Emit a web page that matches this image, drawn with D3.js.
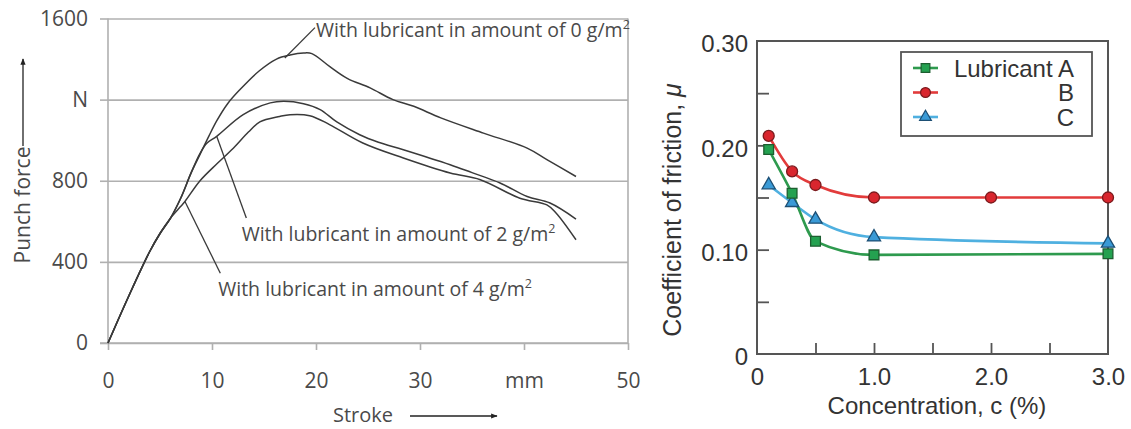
<!DOCTYPE html>
<html>
<head>
<meta charset="utf-8">
<script src="https://cdn.jsdelivr.net/npm/d3@7/dist/d3.min.js"></script>
<style>
  html, body { margin: 0; padding: 0; background: #fff; }
  svg { display: block; }
</style>
</head>
<body>
<svg id="chart" width="1131" height="429"></svg>
<script>
// ---------------- Left panel data: punch force vs stroke ----------------
const strokeTicks = [0, 10, 20, 30, 40, 50];
const strokeTickLabels = ["0", "10", "20", "30", "mm", "50"];
const forceTicks = [0, 400, 800, 1200, 1600];
const forceTickLabels = ["0", "400", "800", "N", "1600"];

const curve0Stroke = [0, 2, 4, 5, 6, 7, 8, 8.85, 9.7, 10.45, 11.5, 12.7, 14.5, 16.2, 17.5, 18.8, 19.6, 21.3, 23, 25.2, 27.4, 29.4, 32, 36.1, 40.3, 42.2, 45];
const curve0Force  = [0, 232, 450, 540, 615, 715, 840, 930, 1020, 1095, 1180, 1250, 1340, 1400, 1420, 1430, 1427, 1364, 1305, 1258, 1200, 1167, 1110, 1035, 961, 904, 821];

const curve2Stroke = [0, 2, 4, 5, 6, 7, 8, 8.85, 9.5, 10.45, 13, 15.6, 16.9, 18.8, 20.4, 22, 24.2, 26, 28.4, 32.9, 35, 37.7, 40.3, 42.5, 45];
const curve2Force  = [0, 232, 450, 540, 615, 715, 840, 935, 985, 1019, 1126, 1184, 1192, 1180, 1151, 1090, 1027, 990, 953, 879, 840, 789, 722, 690, 611];

const curve4Stroke = [0, 2, 4, 5, 6, 7, 7.4, 8.85, 10.5, 12.05, 13.5, 14.6, 16.5, 17.5, 19.4, 21.3, 24.5, 28.4, 32.9, 35.8, 39.6, 42.2, 43.1, 45];
const curve4Force  = [0, 232, 450, 540, 615, 674, 698, 800, 885, 960, 1040, 1090, 1117, 1126, 1121, 1077, 986, 912, 838, 805, 714, 681, 640, 509];

const annotTexts = ["With lubricant in amount of 0 g/m", "With lubricant in amount of 2 g/m", "With lubricant in amount of 4 g/m"];
// leader lines: from point on curve to label (data units)
const leaderFrom = [[17.0, 1405], [10.45, 1019], [7.4, 698]];
const leaderTo   = [[19.9, 1555], [13.3, 616], [10.8, 344]];
// label anchor (start of text baseline, data units)
const annotAnchor = [[20.0, 1511], [12.85, 505], [10.6, 232]];

// ---------------- Right panel data: friction coefficient vs concentration ----------------
const concTicks = [0, 1.0, 2.0, 3.0];
const concMinorTicks = [0.5, 1.0, 1.5, 2.0, 2.5];
const muTicks = [0, 0.10, 0.20, 0.30];
const muMinorTicks = [0.05, 0.10, 0.15, 0.20, 0.25];

const seriesNames = ["Lubricant A", "B", "C"];
const concA = [0.1, 0.3, 0.5, 1.0, 3.0];
const muA   = [0.196, 0.154, 0.108, 0.095, 0.096];
const concB = [0.1, 0.3, 0.5, 1.0, 2.0, 3.0];
const muB   = [0.209, 0.175, 0.162, 0.150, 0.150, 0.150];
const concC = [0.1, 0.3, 0.5, 1.0, 3.0];
const muC   = [0.162, 0.145, 0.129, 0.112, 0.106];

// ======================================================================
const svg = d3.select("#chart");

// ---------------- Left panel ----------------
const L = { left: 108, right: 628, top: 18.5, bottom: 343 };
const xL = d3.scaleLinear().domain([0, 50]).range([L.left, L.right]);
const yL = d3.scaleLinear().domain([0, 1600]).range([L.bottom, L.top]);
const leftFont = "'Open Sans', 'Noto Sans', sans-serif";
const gridCol = "#b0b0b0";
const textColL = "#4a4a4a";

const gL = svg.append("g");

// gridlines
gL.append("g")
  .attr("transform", `translate(${L.left},0)`)
  .call(d3.axisLeft(yL).tickValues(forceTicks).tickSize(-(L.right - L.left)).tickFormat(""))
  .call(g => g.select(".domain").remove())
  .call(g => g.selectAll("line").attr("stroke", gridCol).attr("stroke-width", 1.6));

// y axis with labels
gL.append("g")
  .attr("transform", `translate(${L.left},0)`)
  .call(d3.axisLeft(yL).tickValues(forceTicks).tickSize(8).tickPadding(12)
        .tickFormat((d, i) => forceTickLabels[i]))
  .call(g => g.select(".domain").attr("stroke", gridCol).attr("stroke-width", 1.6).attr("d", `M0,${L.top}V${L.bottom}`))
  .call(g => g.selectAll("line").attr("stroke", gridCol).attr("stroke-width", 1.6))
  .call(g => g.selectAll("text").attr("fill", textColL).attr("font-family", leftFont).attr("font-size", 21));

// right border
gL.append("line")
  .attr("x1", L.right).attr("x2", L.right).attr("y1", L.top).attr("y2", L.bottom)
  .attr("stroke", gridCol).attr("stroke-width", 1.6);

// x axis
gL.append("g")
  .attr("transform", `translate(0,${L.bottom})`)
  .call(d3.axisBottom(xL).tickValues(strokeTicks).tickSize(7).tickPadding(23)
        .tickFormat((d, i) => strokeTickLabels[i]))
  .call(g => g.select(".domain").attr("stroke", gridCol).attr("stroke-width", 1.6).attr("d", `M${L.left - 8},0H${L.right}`))
  .call(g => g.selectAll("line").attr("stroke", gridCol).attr("stroke-width", 1.6))
  .call(g => g.selectAll("text").attr("fill", textColL).attr("font-family", leftFont).attr("font-size", 21));

// curves
const lineL = d3.line().x(d => xL(d[0])).y(d => yL(d[1])).curve(d3.curveCatmullRom.alpha(0.5));
const curves = [
  d3.zip(curve0Stroke, curve0Force),
  d3.zip(curve2Stroke, curve2Force),
  d3.zip(curve4Stroke, curve4Force)
];
gL.selectAll("path.curve").data(curves).join("path")
  .attr("class", "curve")
  .attr("d", lineL)
  .attr("fill", "none")
  .attr("stroke", "#3a3a3a")
  .attr("stroke-width", 1.5);

// leader lines
gL.selectAll("line.leader").data(d3.range(3)).join("line")
  .attr("class", "leader")
  .attr("x1", i => xL(leaderFrom[i][0])).attr("y1", i => yL(leaderFrom[i][1]))
  .attr("x2", i => xL(leaderTo[i][0])).attr("y2", i => yL(leaderTo[i][1]))
  .attr("stroke", "#3a3a3a").attr("stroke-width", 1.3);

// annotation texts
const annot = gL.selectAll("text.annot").data(d3.range(3)).join("text")
  .attr("class", "annot")
  .attr("x", i => xL(annotAnchor[i][0]))
  .attr("y", i => yL(annotAnchor[i][1]))
  .attr("font-family", leftFont).attr("font-size", 19.5).attr("fill", textColL);
annot.append("tspan").text(i => annotTexts[i]);
annot.append("tspan").attr("dy", -8).attr("font-size", 12.5).text("2");

// axis titles
gL.append("text")
  .attr("transform", `translate(30,205) rotate(-90)`)
  .attr("text-anchor", "middle")
  .attr("font-family", leftFont).attr("font-size", 21).attr("fill", textColL)
  .text("Punch force");
gL.append("text")
  .attr("x", 333).attr("y", 422)
  .attr("font-family", leftFont).attr("font-size", 20).attr("fill", textColL)
  .text("Stroke");

const defs = svg.append("defs");
defs.append("marker").attr("id", "arr").attr("viewBox", "0 0 10 10")
  .attr("refX", 9).attr("refY", 5).attr("markerWidth", 5).attr("markerHeight", 5)
  .attr("orient", "auto")
  .append("path").attr("d", "M0,1L10,5L0,9Z").attr("fill", "#222");

gL.append("line").attr("x1", 23).attr("x2", 23).attr("y1", 146).attr("y2", 59)
  .attr("stroke", "#222").attr("stroke-width", 1.3).attr("marker-end", "url(#arr)");
gL.append("line").attr("x1", 410).attr("x2", 497).attr("y1", 416).attr("y2", 416)
  .attr("stroke", "#222").attr("stroke-width", 1.3).attr("marker-end", "url(#arr)");

// ---------------- Right panel ----------------
const R = { left: 757, right: 1108, top: 41, bottom: 354 };
const xR = d3.scaleLinear().domain([0, 3.0]).range([R.left, R.right]);
const yR = d3.scaleLinear().domain([0, 0.30]).range([R.bottom, R.top]);
const rightFont = "'Liberation Sans', Arial, sans-serif";
const frameCol = "#555";
const textColR = "#333";
const fsR = 24;
const gR = svg.append("g");

// minor inward ticks
gR.append("g")
  .attr("transform", `translate(${R.left},0)`)
  .call(d3.axisRight(yR).tickValues(muMinorTicks).tickSize(12).tickFormat(""))
  .call(g => g.select(".domain").remove())
  .call(g => g.selectAll("line").attr("stroke", frameCol).attr("stroke-width", 1.8));
gR.append("g")
  .attr("transform", `translate(0,${R.bottom})`)
  .call(d3.axisTop(xR).tickValues(concMinorTicks).tickSize(11).tickFormat(""))
  .call(g => g.select(".domain").remove())
  .call(g => g.selectAll("line").attr("stroke", frameCol).attr("stroke-width", 1.8));

// labels
gR.append("g")
  .attr("transform", `translate(${R.left},0)`)
  .call(d3.axisLeft(yR).tickValues(muTicks).tickSize(0).tickPadding(9)
        .tickFormat(d => d === 0 ? "0" : d3.format(".2f")(d)))
  .call(g => g.select(".domain").remove())
  .call(g => g.selectAll("text").attr("dy", "0.45em").attr("fill", textColR).attr("font-family", rightFont).attr("font-size", fsR));
gR.append("g")
  .attr("transform", `translate(0,${R.bottom})`)
  .call(d3.axisBottom(xR).tickValues(concTicks).tickSize(0).tickPadding(14)
        .tickFormat(d => d === 0 ? "0" : d3.format(".1f")(d)))
  .call(g => g.select(".domain").remove())
  .call(g => g.selectAll("text").attr("fill", textColR).attr("font-family", rightFont).attr("font-size", fsR));

// frame
gR.append("rect")
  .attr("x", R.left).attr("y", R.top).attr("width", R.right - R.left).attr("height", R.bottom - R.top)
  .attr("fill", "none").attr("stroke", frameCol).attr("stroke-width", 2);

// axis titles
gR.append("text")
  .attr("transform", `translate(681,210) rotate(-90)`)
  .attr("text-anchor", "middle")
  .attr("font-family", rightFont).attr("font-size", 25).attr("fill", textColR)
  .call(t => t.append("tspan").text("Coefficient of friction, "))
  .call(t => t.append("tspan").attr("font-style", "italic").text("μ"));
gR.append("text")
  .attr("x", 937).attr("y", 414)
  .attr("text-anchor", "middle")
  .attr("font-family", rightFont).attr("font-size", fsR).attr("fill", textColR)
  .text("Concentration, c (%)");

const series = [
  { name: seriesNames[0], pts: d3.zip(concA, muA), line: "#2e9a4e", fill: "#24a150", stroke: "#1d5e30", shape: d3.symbolSquare, size: 95 },
  { name: seriesNames[1], pts: d3.zip(concB, muB), line: "#e23b3b", fill: "#d9262e", stroke: "#7a1a1d", shape: d3.symbolCircle, size: 95 },
  { name: seriesNames[2], pts: d3.zip(concC, muC), line: "#4fb0e0", fill: "#3a9ad6", stroke: "#1d4f74", shape: d3.symbolTriangle, size: 75 }
];
const lineR = d3.line().x(d => xR(d[0])).y(d => yR(d[1])).curve(d3.curveMonotoneX);

[2, 0, 1].forEach(k => {
  const s = series[k];
  gR.append("path").attr("d", lineR(s.pts)).attr("fill", "none")
    .attr("stroke", s.line).attr("stroke-width", 2.6);
});
[2, 0, 1].forEach(k => {
  const s = series[k];
  gR.selectAll(null).data(s.pts).join("path")
    .attr("transform", d => `translate(${xR(d[0])},${yR(d[1])})`)
    .attr("d", d3.symbol().type(s.shape).size(s.size))
    .attr("fill", s.fill).attr("stroke", s.stroke).attr("stroke-width", 1.3);
});

// legend
const lg = gR.append("g");
lg.append("rect").attr("x", 901).attr("y", 52).attr("width", 191).attr("height", 84)
  .attr("fill", "#fff").attr("stroke", frameCol).attr("stroke-width", 1.8);
series.forEach((s, i) => {
  const cy = 68 + i * 24.5;
  lg.append("line").attr("x1", 913).attr("x2", 938).attr("y1", cy).attr("y2", cy)
    .attr("stroke", s.line).attr("stroke-width", 2.6);
  lg.append("path").attr("transform", `translate(925.5,${cy})`)
    .attr("d", d3.symbol().type(s.shape).size(s.size * 0.8))
    .attr("fill", s.fill).attr("stroke", s.stroke).attr("stroke-width", 1.2);
  lg.append("text").attr("x", 1074).attr("y", cy).attr("dy", "0.36em")
    .attr("text-anchor", "end")
    .attr("font-family", rightFont).attr("font-size", fsR).attr("fill", textColR)
    .text(s.name);
});
</script>
</body>
</html>
